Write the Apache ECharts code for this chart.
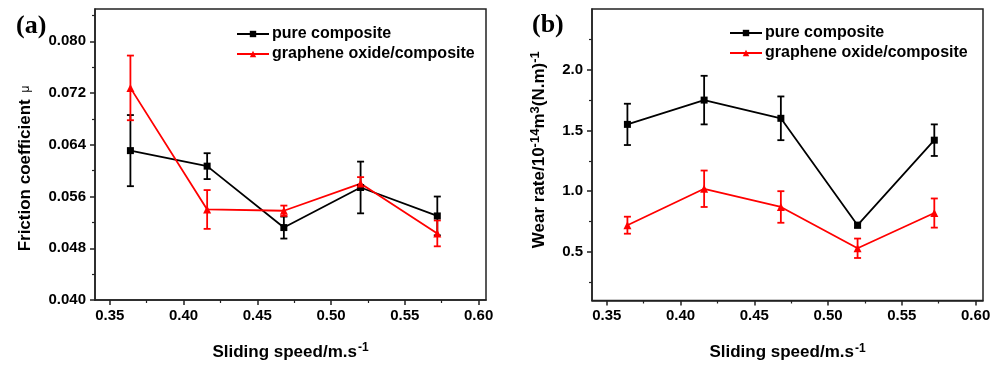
<!DOCTYPE html>
<html>
<head>
<meta charset="utf-8">
<script src="https://cdn.jsdelivr.net/npm/echarts@6/dist/echarts.min.js"></script>
<style>
html,body{margin:0;padding:0;background:#fff;}
#chart{width:1003px;height:366px;}
</style>
</head>
<body>
<div id="chart"></div>
<script>
// ---- data ----
const speeds = [0.364, 0.416, 0.468, 0.520, 0.572];
const frictionPure = [0.0631, 0.0607, 0.0512, 0.0574, 0.0530];
const frictionPureErr = [0.0055, 0.0020, 0.0017, 0.0040, 0.0030];
const frictionGO = [0.0728, 0.0540, 0.0538, 0.0580, 0.0503];
const frictionGOErr = [0.0050, 0.0030, 0.0008, 0.0010, 0.0020];
const wearPure = [1.55, 1.75, 1.60, 0.72, 1.42];
const wearPureErr = [0.17, 0.20, 0.18, 0.02, 0.13];
const wearGO = [0.72, 1.02, 0.87, 0.53, 0.82];
const wearGOErr = [0.07, 0.15, 0.13, 0.08, 0.12];

const seriesNames = ['pure composite', 'graphene oxide/composite'];

// tick labels
const xTicks = [0.35, 0.40, 0.45, 0.50, 0.55, 0.60];
const xMinorTicks = [0.375, 0.425, 0.475, 0.525, 0.575];
const frictionTicks = [0.040, 0.048, 0.056, 0.064, 0.072, 0.080];
const frictionMinorTicks = [0.044, 0.052, 0.060, 0.068, 0.076, 0.084];
const wearTicks = [0.5, 1.0, 1.5, 2.0];
const wearMinorTicks = [0.25, 0.75, 1.25, 1.75, 2.25];

// ---- build ----
const FONT = '"Liberation Sans", Arial, sans-serif';
const AXIS_COLOR = '#222';
const BLACK = '#000000';
const RED = '#ff0000';

function pairs(xs, ys) { return xs.map((x, i) => [x, ys[i]]); }
function errData(xs, ys, es) { return xs.map((x, i) => [x, ys[i] - es[i], ys[i] + es[i]]); }

function errSeries(xi, yi, data, color) {
  return {
    type: 'custom',
    xAxisIndex: xi, yAxisIndex: yi,
    z: 2,
    silent: true,
    data: data,
    renderItem: function (params, api) {
      const x = api.value(0);
      const lo = api.coord([x, api.value(1)]);
      const hi = api.coord([x, api.value(2)]);
      const w = 3.5;
      const style = { stroke: color, lineWidth: 1.8, fill: null };
      return {
        type: 'group',
        children: [
          { type: 'line', shape: { x1: lo[0], y1: lo[1], x2: hi[0], y2: hi[1] }, style: style },
          { type: 'line', shape: { x1: lo[0] - w, y1: lo[1], x2: lo[0] + w, y2: lo[1] }, style: style },
          { type: 'line', shape: { x1: hi[0] - w, y1: hi[1], x2: hi[0] + w, y2: hi[1] }, style: style }
        ]
      };
    }
  };
}

function lineSeries(name, xi, yi, data, color, symbol, size) {
  return {
    name: name, type: 'line',
    xAxisIndex: xi, yAxisIndex: yi,
    z: 3,
    data: data,
    symbol: symbol, symbolSize: size,
    lineStyle: { color: color, width: 1.8 },
    itemStyle: { color: color },
    animation: false
  };
}

function mainX(gi, name) {
  return {
    type: 'value', gridIndex: gi, min: 0.34, max: 0.605, position: 'bottom',
    name: name, nameLocation: 'middle', nameGap: 42,
    nameTextStyle: {
      fontFamily: FONT, fontWeight: 'bold', fontSize: 17, color: '#000',
      rich: { sup: { fontFamily: FONT, fontWeight: 'bold', fontSize: 12, verticalAlign: 'top', padding: [0, 0, 8, 1] } }
    },
    axisLine: { show: true, onZero: false, lineStyle: { color: AXIS_COLOR, width: 1.5 } },
    axisTick: { show: true, inside: false, length: 5, customValues: xTicks, lineStyle: { color: AXIS_COLOR, width: 1.5 } },
    axisLabel: { customValues: xTicks, margin: 8, formatter: v => v.toFixed(2), fontFamily: FONT, fontWeight: 'bold', fontSize: 15, color: '#000' },
    splitLine: { show: false }
  };
}
function minorX(gi) {
  return {
    type: 'value', gridIndex: gi, min: 0.34, max: 0.605, position: 'bottom',
    axisLine: { show: false },
    axisTick: { show: true, inside: false, length: 3, customValues: xMinorTicks, lineStyle: { color: AXIS_COLOR, width: 1.2 } },
    axisLabel: { show: false },
    splitLine: { show: false }
  };
}
function mainY(gi, min, max, ticks, dec, name, gap, rich, pad) {
  return {
    type: 'value', gridIndex: gi, min: min, max: max, position: 'left',
    name: name, nameLocation: 'middle', nameGap: gap, nameRotate: 90,
    nameTextStyle: { fontFamily: FONT, fontWeight: 'bold', fontSize: 17, color: '#000', rich: rich, padding: pad },
    axisLine: { show: true, onZero: false, lineStyle: { color: AXIS_COLOR, width: 1.5 } },
    axisTick: { show: true, inside: false, length: 5, customValues: ticks, lineStyle: { color: AXIS_COLOR, width: 1.5 } },
    axisLabel: { customValues: ticks, margin: 9, formatter: v => v.toFixed(dec), fontFamily: FONT, fontWeight: 'bold', fontSize: 15, color: '#000' },
    splitLine: { show: false }
  };
}
function minorY(gi, min, max, ticks) {
  return {
    type: 'value', gridIndex: gi, min: min, max: max, position: 'left',
    axisLine: { show: false },
    axisTick: { show: true, inside: false, length: 3, customValues: ticks, lineStyle: { color: AXIS_COLOR, width: 1.2 } },
    axisLabel: { show: false },
    splitLine: { show: false }
  };
}

const legendCommon = {
  orient: 'vertical', itemWidth: 32, itemHeight: 8, itemGap: 4,
  textStyle: { fontFamily: FONT, fontWeight: 'bold', fontSize: 16, color: '#000', padding: [0, 0, 0, -2] },
  data: seriesNames, selectedMode: false
};

const option = {
  backgroundColor: '#fff',
  animation: false,
  grid: [
    { left: 95, top: 9, width: 391, height: 291, show: true, borderColor: AXIS_COLOR, borderWidth: 1.5, containLabel: false },
    { left: 592, top: 9, width: 391, height: 292, show: true, borderColor: AXIS_COLOR, borderWidth: 1.5, containLabel: false }
  ],
  xAxis: [
    mainX(0, 'Sliding speed/m.s{sup|-1}'), minorX(0),
    mainX(1, 'Sliding speed/m.s{sup|-1}'), minorX(1)
  ],
  yAxis: [
    mainY(0, 0.04, 0.085, frictionTicks, 3, 'Friction coefficient {mu|μ}', 61,
      { mu: { fontFamily: FONT, fontSize: 12, fontWeight: 'normal', color: '#000', padding: [0, 0, 0, 2] } }, [0, 28, 0, 0]),
    minorY(0, 0.04, 0.085, frictionMinorTicks),
    mainY(1, 0.1, 2.5, wearTicks, 1, 'Wear rate/10{sup|-14}m{sup|3}(N.m){sup|-1}', 42,
      { sup: { fontFamily: FONT, fontWeight: 'bold', fontSize: 13, color: '#000', verticalAlign: 'top', padding: [0, 0, 8, 0] } }, [0, 0, 0, 10]),
    minorY(1, 0.1, 2.5, wearMinorTicks)
  ],
  legend: [
    Object.assign({ left: 231, top: 21 }, legendCommon),
    Object.assign({ left: 724, top: 20 }, legendCommon)
  ],
  graphic: [
    { type: 'text', left: 16, top: 13, style: { text: '(a)', font: 'bold 26px "Liberation Serif", "Times New Roman", serif', fill: '#000' } },
    { type: 'text', left: 532, top: 12, style: { text: '(b)', font: 'bold 26px "Liberation Serif", "Times New Roman", serif', fill: '#000' } }
  ],
  series: [
    errSeries(0, 0, errData(speeds, frictionPure, frictionPureErr), BLACK),
    errSeries(0, 0, errData(speeds, frictionGO, frictionGOErr), RED),
    lineSeries(seriesNames[0], 0, 0, pairs(speeds, frictionPure), BLACK, 'rect', 7),
    lineSeries(seriesNames[1], 0, 0, pairs(speeds, frictionGO), RED, 'triangle', 8),
    errSeries(2, 2, errData(speeds, wearPure, wearPureErr), BLACK),
    errSeries(2, 2, errData(speeds, wearGO, wearGOErr), RED),
    lineSeries(seriesNames[0], 2, 2, pairs(speeds, wearPure), BLACK, 'rect', 7),
    lineSeries(seriesNames[1], 2, 2, pairs(speeds, wearGO), RED, 'triangle', 8)
  ]
};

const chart = echarts.init(document.getElementById('chart'), null, { renderer: 'canvas' });
chart.setOption(option);
</script>
</body>
</html>
